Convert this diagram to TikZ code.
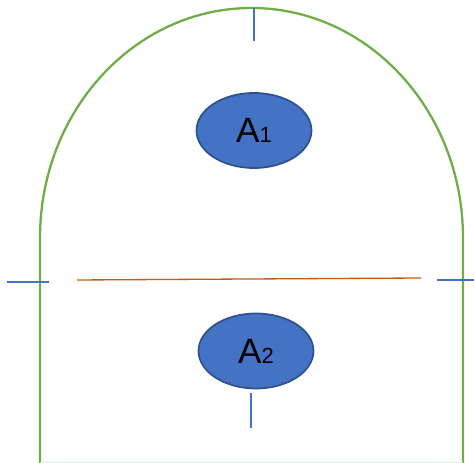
\documentclass[tikz,border=0pt]{standalone}
\usepackage{fontspec}
\setmainfont{Liberation Sans}
\usetikzlibrary{shapes.geometric}
\definecolor{wallgreen}{HTML}{70AD47}
\definecolor{blobblue}{HTML}{4472C4}
\definecolor{blobedge}{HTML}{2F528F}
\definecolor{cutorange}{HTML}{C55A11}

\begin{document}
\begin{tikzpicture}[x=0.02cm,y=0.02cm,
    blob/.style={ellipse,draw=blobedge,line width=1pt,fill=blobblue,minimum width=2.3cm,minimum height=1.5cm,inner sep=0pt,font=\fontsize{20}{22}\selectfont},
    tick/.style={draw=blobblue,line width=0.6pt},
    wall/.style={draw=wallgreen,line width=1.3pt}]
    \useasboundingbox (0,0) rectangle (474,463);
    % outline
    \draw[wall](40,0)--(40,225) arc[start angle=180,end angle=0,x radius=211.5,y radius=230]--(463,0);
    \draw[wallgreen!20,line width=0.6pt](40,0.6)--(463,0.6);
    \node[blob](aone) at (254,332.5){\raisebox{-1.5pt}{A{\fontsize{12.5}{14}\selectfont 1}}};
    \node[blob](atwo) at (256,112){\raisebox{-1.5pt}{A{\fontsize{12.5}{14}\selectfont 2}}};
    \coordinate (ttop) at (254,455);
    \coordinate (tbot) at (254,422);
    \coordinate (lfa) at (7,181);
    \coordinate (lfb) at (49,181);
    \coordinate (rta) at (437,183);
    \coordinate (rtb) at (474,183);
    \coordinate (cuta) at (77,183);
    \coordinate (cutb) at (421,185);
    \coordinate (dna) at (251,70);
    \coordinate (dnb) at (251,35);
    \draw[tick](ttop)--(tbot);
    \draw[tick](lfa)--(lfb);
    \draw[tick](rta)--(rtb);
    \draw[tick](dna)--(dnb);
    \draw[cutorange,line width=0.75pt](cuta)--(cutb);
\end{tikzpicture}
\end{document}
